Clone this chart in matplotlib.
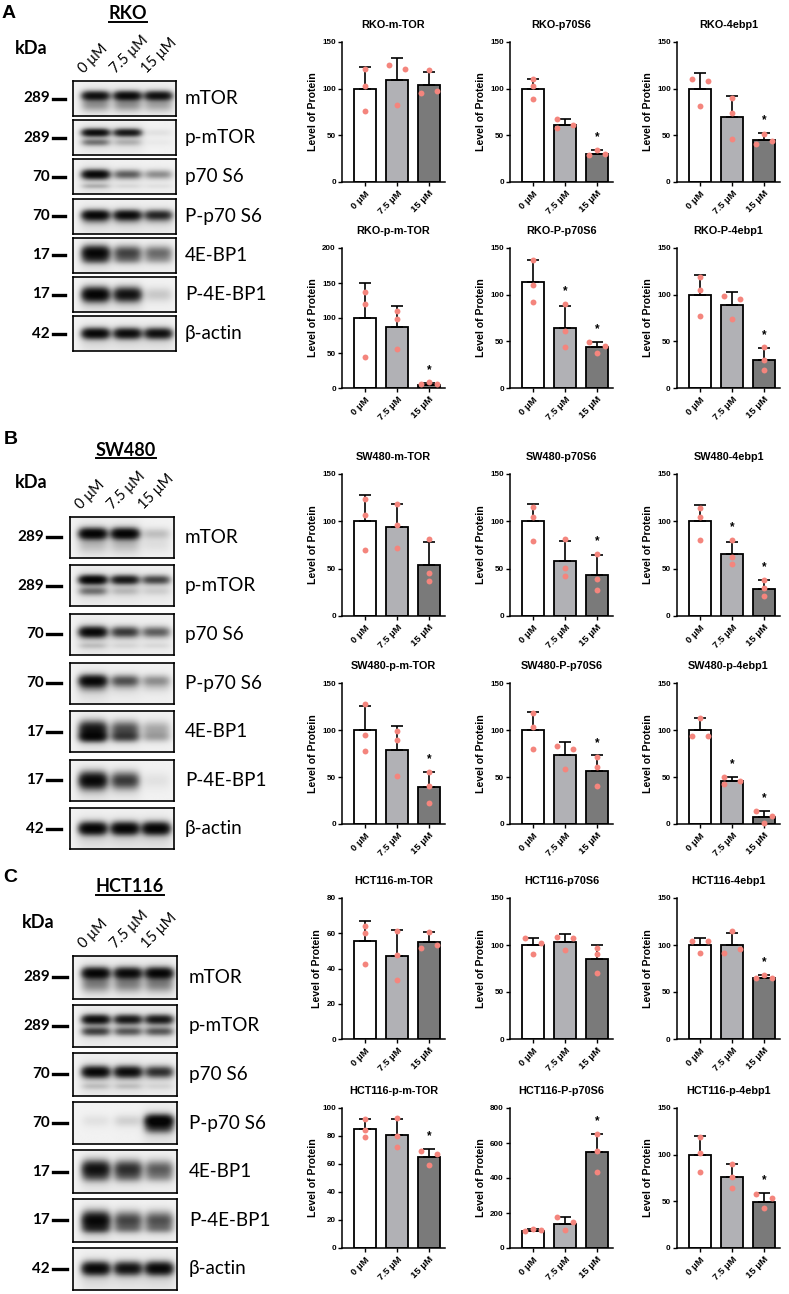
import numpy as np
import matplotlib
matplotlib.use('Agg')
import matplotlib.pyplot as plt
from matplotlib.lines import Line2D

# ------------------------------------------------------------------ data
DOSES = ['0 μM', '7.5 μM', '15 μM']
PROTEINS = ['mTOR', 'p-mTOR', 'p70 S6', 'P-p70 S6', '4E-BP1', 'P-4E-BP1', 'β-actin']
MARKERS = ['289', '289', '70', '70', '17', '17', '42']
CELLS = ['RKO', 'SW480', 'HCT116']
PANELS = ['A', 'B', 'C']

RKO_titles = ['RKO-m-TOR', 'RKO-p70S6', 'RKO-4ebp1', 'RKO-p-m-TOR', 'RKO-P-p70S6', 'RKO-P-4ebp1']
RKO_ymax = [150, 150, 150, 200, 150, 150]
RKO_ystep = [50, 50, 50, 50, 50, 50]
RKO_mean = [[100, 109, 104], [100, 61.5, 30.5], [100, 69.6, 44.6],
            [100, 87.7, 4.5], [113.4, 64, 43.7], [100, 88.9, 30.2]]
RKO_sd = [[23, 24, 13.5], [10.5, 5.5, 3.8], [16.8, 22.2, 8.2],
          [50, 29.3, 2.5], [23.5, 23.8, 6.1], [21.6, 13.5, 12.5]]
RKO_pts = [[[121, 103, 76], [125, 121, 82], [95, 120, 98]],
           [[110, 102.5, 88.6], [67, 61.4, 57.5], [28.6, 34, 30.4]],
           [[110.7, 81, 108.2], [90, 74, 46], [40.4, 51.8, 44]],
           [[137.4, 120, 43.6], [110.4, 98.6, 55.5], [5.7, 8, 5.7]],
           [[137.6, 110.2, 92.4], [89.6, 61.1, 43.4], [49, 38, 45.1]],
           [[119, 104.9, 77.1], [98.8, 73.9, 94.9], [43.4, 30.2, 19.6]]]
RKO_sig = [[0, 0, 0], [0, 0, 1], [0, 0, 1], [0, 0, 1], [0, 1, 1], [0, 0, 1]]

SW480_titles = ['SW480-m-TOR', 'SW480-p70S6', 'SW480-4ebp1', 'SW480-p-m-TOR', 'SW480-P-p70S6', 'SW480-p-4ebp1']
SW480_ymax = [150, 150, 150, 150, 150, 150]
SW480_ystep = [50, 50, 50, 50, 50, 50]
SW480_mean = [[100, 94.4, 54.1], [100, 58, 43.5], [100, 65.4, 28.3],
              [100, 78.9, 39.1], [100, 72.9, 56.9], [100, 45.9, 7.1]]
SW480_sd = [[27.3, 24.1, 24.4], [18.5, 21.2, 20.5], [17.4, 13.1, 9.5],
            [25.5, 25.6, 16], [19.4, 14.2, 16], [12.7, 3.9, 6.8]]
SW480_pts = [[[123.4, 106.8, 69.7], [118.1, 96.2, 71.5], [81.4, 45.6, 36.8]],
             [[115, 105, 79.6], [81.4, 50.9, 42.4], [65.4, 38.9, 27.2]],
             [[113.9, 105, 80.3], [80.3, 62.6, 54.5], [37.8, 29.7, 20.9]],
             [[127.6, 94.9, 77.9], [98.5, 88.9, 51.5], [55.1, 40.9, 22.8]],
             [[118, 103, 79.6], [83.2, 80, 58.7], [71.1, 61.1, 40.9]],
             [[112.7, 93.1, 93.1], [49.8, 45.9, 42.7], [13.9, 8.5, 1.4]]]
SW480_sig = [[0, 0, 0], [0, 0, 1], [0, 1, 1], [0, 0, 1], [0, 0, 1], [0, 1, 1]]

HCT116_titles = ['HCT116-m-TOR', 'HCT116-p70S6', 'HCT116-4ebp1', 'HCT116-p-m-TOR', 'HCT116-P-p70S6', 'HCT116-p-4ebp1']
HCT116_ymax = [80, 150, 150, 100, 800, 150]
HCT116_ystep = [20, 50, 50, 20, 200, 50]
HCT116_mean = [[55.5, 47.2, 55.1], [99.8, 103.3, 85.6], [100, 100.5, 65.4],
               [85.1, 81, 64.7], [98.6, 138.4, 549.8], [99.5, 76.4, 49.8]]
HCT116_sd = [[11.5, 14.5, 5.7], [8.1, 8.8, 14.9], [7.5, 12.7, 2.5],
             [7.3, 11.4, 5.9], [9.4, 37.6, 104], [20.3, 13.2, 8.9]]
HCT116_pts = [[[64.2, 60.2, 42.5], [61.3, 47.5, 33.4], [60.8, 51.7, 53.2]],
              [[107.9, 102.2, 90.9], [108.6, 107.9, 94.4], [97.3, 90.2, 70.7]],
              [[104.3, 104.3, 92], [114.6, 92, 96.2], [64.4, 67.9, 65.1]],
              [[92.4, 84.6, 79.4], [92.9, 79.9, 71.8], [69.4, 67.5, 59.2]],
              [[94.8, 110, 100.5], [176.3, 104.3, 146], [650, 555, 436]],
              [[119, 102, 81.8], [89.9, 75.7, 64], [57.6, 53.3, 42.7]]]
HCT116_sig = [[0, 0, 0], [0, 0, 0], [0, 0, 1], [0, 0, 1], [0, 0, 1], [0, 0, 1]]

# western blot band intensities (rows = PROTEINS, cols = lanes)
RKO_band = [[0.8, 0.85, 0.8], [0.85, 0.75, 0.04], [0.9, 0.4, 0.25], [0.9, 0.85, 0.65],
            [0.9, 0.5, 0.35], [0.95, 0.8, 0.1], [0.9, 0.85, 0.82]]
RKO_band2 = [[0.2, 0.2, 0.15], [0.3, 0.12, 0.02], [0.12, 0.04, 0.03], [0.1, 0.08, 0.06],
             [0.2, 0.15, 0.1], [0.0, 0.0, 0.0], [0.0, 0.0, 0.0]]
SW480_band = [[0.95, 0.95, 0.12], [0.95, 0.75, 0.5], [0.9, 0.55, 0.4], [0.9, 0.45, 0.25],
              [0.75, 0.45, 0.18], [0.9, 0.55, 0.04], [0.95, 0.95, 0.95]]
SW480_band2 = [[0.08, 0.08, 0.04], [0.3, 0.1, 0.06], [0.08, 0.04, 0.04], [0.12, 0.04, 0.04],
               [0.65, 0.4, 0.15], [0.0, 0.0, 0.0], [0.0, 0.0, 0.0]]
HCT116_band = [[0.9, 0.85, 0.9], [0.85, 0.75, 0.75], [0.9, 0.85, 0.6], [0.04, 0.08, 1.0],
               [0.8, 0.6, 0.4], [0.9, 0.5, 0.45], [0.9, 0.8, 0.9]]
HCT116_band2 = [[0.25, 0.25, 0.25], [0.5, 0.4, 0.4], [0.08, 0.08, 0.04], [0.0, 0.0, 0.35],
                [0.15, 0.15, 0.12], [0.25, 0.15, 0.15], [0.0, 0.0, 0.0]]

DATA = {
    'RKO': (RKO_titles, RKO_ymax, RKO_ystep, RKO_mean, RKO_sd, RKO_pts, RKO_sig, RKO_band, RKO_band2),
    'SW480': (SW480_titles, SW480_ymax, SW480_ystep, SW480_mean, SW480_sd, SW480_pts, SW480_sig, SW480_band, SW480_band2),
    'HCT116': (HCT116_titles, HCT116_ymax, HCT116_ystep, HCT116_mean, HCT116_sd, HCT116_pts, HCT116_sig, HCT116_band, HCT116_band2),
}

# ------------------------------------------------------------------ style / layout
W, H = 789, 1294
fig = plt.figure(figsize=(W / 100, H / 100), dpi=100)
fig.patch.set_facecolor('white')

ARIAL = ['Liberation Sans', 'DejaVu Sans']
BLOT_FONT = ['Lato', 'Open Sans', 'DejaVu Sans']
BAR_COLORS = ['#ffffff', '#b1b1b5', '#7a7a7a']
PT_COLOR = '#f4857d'

def add_ax(x0, y0, w, h):
    return fig.add_axes([x0 / W, 1 - (y0 + h) / H, w / W, h / H])

def fx(x):
    return x / W

def fy(y):
    return 1 - y / H

def swarm_offsets(vals, ppu, thr=6.0, d=0.26):
    n = len(vals)
    offs = np.zeros(n)
    order = sorted(range(n), key=lambda j: vals[j])
    clusters, cur = [], [order[0]]
    for a, b in zip(order[:-1], order[1:]):
        if (vals[b] - vals[a]) * ppu < thr:
            cur.append(b)
        else:
            clusters.append(cur)
            cur = [b]
    clusters.append(cur)
    for cl in clusters:
        if len(cl) < 2:
            continue
        cl = sorted(cl)
        span = (max(vals[j] for j in cl) - min(vals[j] for j in cl)) * ppu
        if len(cl) == 3 and span < thr:
            pattern = [-d, 0.0, d]
        else:
            pattern = [(-d if m % 2 == 0 else d) for m in range(len(cl))]
        for j, o in zip(cl, pattern):
            offs[j] = o
    return offs

def draw_bars(ax, title, mean, sd, pts, sig, ymax, ystep, ax_h_px):
    x = np.arange(3)
    ax.bar(x, mean, width=0.66, color=BAR_COLORS, edgecolor='black', linewidth=1.3, zorder=2)
    ax.errorbar(x, mean, yerr=[np.zeros(3), sd], fmt='none', ecolor='black',
                elinewidth=1.2, capsize=4.5, capthick=1.2, zorder=3)
    ppu = ax_h_px / ymax
    for i in range(3):
        offs = swarm_offsets(pts[i], ppu)
        ax.scatter(x[i] + offs, pts[i], s=18, color=PT_COLOR, zorder=5, linewidths=0, clip_on=False)
        if sig[i]:
            top = max(mean[i] + sd[i], max(pts[i]))
            ax.annotate('*', (x[i], top), xytext=(0, 7), textcoords='offset points',
                        ha='center', va='baseline', fontsize=8.5, fontweight='bold', family=ARIAL)
    ax.set_xlim(-0.72, 2.5)
    ax.set_ylim(0, ymax)
    ax.set_yticks(np.arange(0, ymax + 1, ystep))
    ax.set_xticks(x)
    ax.set_xticklabels(DOSES, rotation=45, ha='right', va='top', rotation_mode='anchor',
                       fontsize=6.8, fontweight='bold', family=ARIAL)
    for lab in ax.get_yticklabels():
        lab.set_fontweight('bold')
        lab.set_family(ARIAL)
    for s in ['top', 'right']:
        ax.spines[s].set_visible(False)
    for s in ['left', 'bottom']:
        ax.spines[s].set_linewidth(1.1)
    ax.tick_params(axis='y', width=1.0, length=3, labelsize=5.8, pad=1.5)
    ax.tick_params(axis='x', width=1.0, length=3, pad=2)
    ax.set_ylabel('Level of Protein', fontsize=7.6, fontweight='bold', family=ARIAL, labelpad=3)
    ax.text(0.5, 1 + 17.5 / ax_h_px, title, transform=ax.transAxes, ha='center', va='center',
            fontsize=7.8, fontweight='bold', family=ARIAL)

# per-row band shape: (main y, main sigma, second y, second sigma)
ROW_SHAPE = [(0.58, 0.13, 0.32, 0.18), (0.64, 0.11, 0.36, 0.1), (0.56, 0.13, 0.22, 0.07),
             (0.54, 0.14, 0.36, 0.12), (0.56, 0.19, 0.36, 0.12), (0.5, 0.2, 0.3, 0.1),
             (0.5, 0.15, 0.3, 0.1)]
LANE_X = [0.22, 0.53, 0.83]

def blot_image(main, second, row, nx=180, ny=70):
    xx = np.linspace(0, 1, nx)[None, :]
    yy = np.linspace(0, 1, ny)[:, None]
    yc, sy, y2, sy2 = ROW_SHAPE[row]
    dark = np.zeros((ny, nx))
    for l, cx in enumerate(LANE_X):
        px = np.exp(-((xx - cx) / 0.135) ** 4)
        dark += main[l] * px * np.exp(-((yy - yc) / sy) ** 2)
        dark += second[l] * px * np.exp(-((yy - y2) / sy2) ** 2)
        dark += 0.08 * main[l] * np.exp(-((xx - cx) / 0.16) ** 4) * np.exp(-((yy - yc + 0.15) / 0.4) ** 2)
    dark = np.tanh(1.5 * dark) / np.tanh(1.5)
    return 0.95 - 0.93 * np.clip(dark, 0, 1)

# blot panel geometry (pixels)
BLOT_GEOM = {
    'RKO': dict(letter=(2, 13), name=(128, 13.5), uline=22, kda=(15, 49), bx0=73, bx1=176,
                top0=81, pitch=39.2, bh=35, mk_r=50, dash=(53, 65), prot_x=185),
    'SW480': dict(letter=(4, 440), name=(126, 450), uline=458, kda=(15, 483), bx0=70, bx1=174,
                  top0=516.7, pitch=48.6, bh=41, mk_r=44, dash=(47, 61), prot_x=185),
    'HCT116': dict(letter=(3, 877), name=(130, 887), uline=895, kda=(22, 923), bx0=73, bx1=177,
                   top0=956, pitch=48.6, bh=42.5, mk_r=50, dash=(53, 67), prot_x=189),
}
BAR_COL_X = [342, 510, 677]
BAR_W = 103
BAR_ROWS = {'RKO': [(42, 182), (248, 388)], 'SW480': [(474, 616), (683, 824)],
            'HCT116': [(898, 1039), (1108, 1248)]}

renderer = fig.canvas.get_renderer()

for ci, cell in enumerate(CELLS):
    titles, ymaxs, ysteps, means, sds, ptss, sigs, band, band2 = DATA[cell]
    g = BLOT_GEOM[cell]
    fig.text(fx(g['letter'][0]), fy(g['letter'][1]), PANELS[ci], ha='left', va='center',
             fontsize=14, fontweight='bold', family=ARIAL)
    t = fig.text(fx(g['name'][0]), fy(g['name'][1]), cell, ha='center', va='center',
                 fontsize=13, fontweight='bold', family=BLOT_FONT)
    bb = t.get_window_extent(renderer)
    fig.add_artist(Line2D([bb.x0 / W, bb.x1 / W], [fy(g['uline'])] * 2,
                          transform=fig.transFigure, color='black', lw=1.4))
    fig.text(fx(g['kda'][0]), fy(g['kda'][1]), 'kDa', ha='left', va='center',
             fontsize=13, fontweight='bold', family=BLOT_FONT)
    bw = g['bx1'] - g['bx0']
    for l, lx in enumerate(LANE_X):
        px_ = g['bx0'] + lx * bw
        fig.text(fx(px_ - 12), fy(g['top0'] - 7), DOSES[l], rotation=45, rotation_mode='anchor',
                 ha='left', va='baseline', fontsize=10.5, family=BLOT_FONT)
    for r in range(len(PROTEINS)):
        top = g['top0'] + r * g['pitch']
        ax = add_ax(g['bx0'], top, bw, g['bh'])
        ax.imshow(blot_image(band[r], band2[r], r), extent=(0, 1, 0, 1), origin='lower',
                  aspect='auto', cmap='gray', vmin=0, vmax=1, interpolation='bilinear')
        ax.set_xticks([])
        ax.set_yticks([])
        for s in ax.spines.values():
            s.set_linewidth(1.2)
        yc = top + g['bh'] / 2
        fig.text(fx(g['mk_r']), fy(yc), MARKERS[r], ha='right', va='center', fontsize=11,
                 fontweight='bold', family=BLOT_FONT)
        fig.add_artist(Line2D([fx(g['dash'][0]), fx(g['dash'][1])], [fy(yc)] * 2,
                              transform=fig.transFigure, color='black', lw=2.4))
        fig.text(fx(g['prot_x']), fy(yc), PROTEINS[r], ha='left', va='center', fontsize=13.6,
                 family=BLOT_FONT)
    for k in range(6):
        rr, cc = divmod(k, 3)
        y0, y1 = BAR_ROWS[cell][rr]
        ax = add_ax(BAR_COL_X[cc], y0, BAR_W, y1 - y0)
        draw_bars(ax, titles[k], means[k], sds[k], ptss[k], sigs[k], ymaxs[k], ysteps[k], y1 - y0)

fig.savefig('out.png', dpi=100, facecolor='white')
